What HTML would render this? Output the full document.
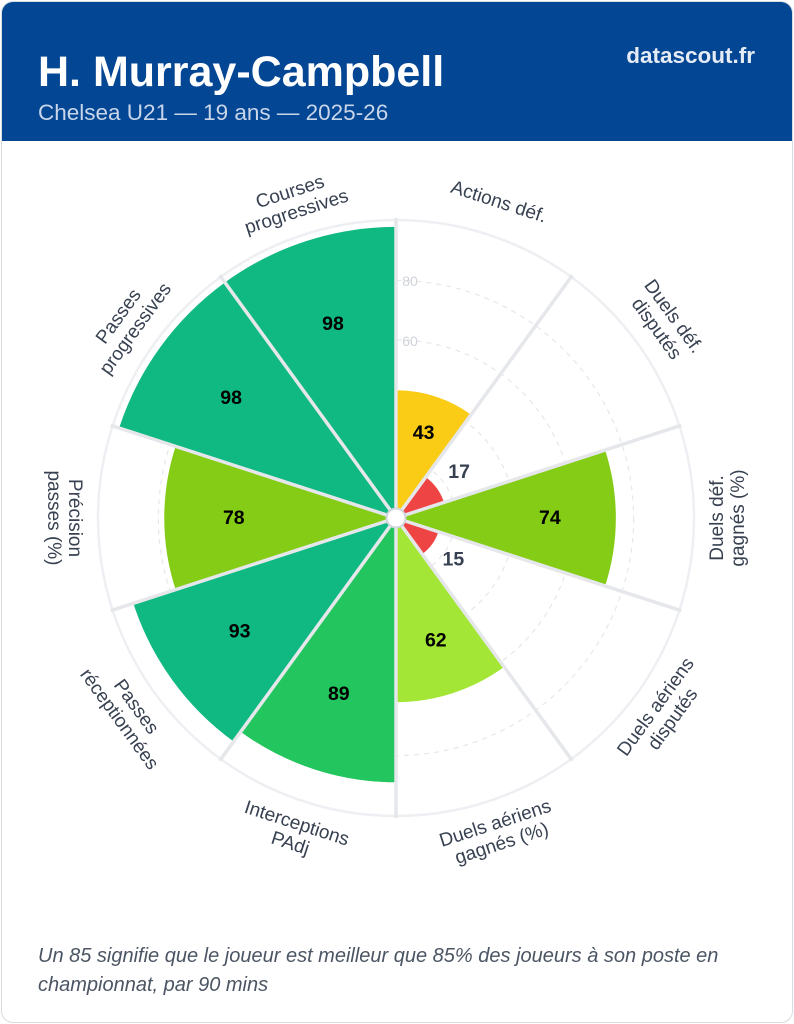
<!DOCTYPE html>
<html><head><meta charset="utf-8"><style>
html,body{margin:0;padding:0;background:#fff;}
body{width:794px;height:1024px;position:relative;overflow:hidden;font-family:"Liberation Sans",sans-serif;}
.card{position:absolute;left:1px;top:1px;width:790px;height:1020px;border:1px solid #d9dce1;border-radius:12px;overflow:hidden;background:#fff;}
.hdr{position:absolute;left:0;top:0;width:790px;height:139px;background:#034694;}
.t{position:absolute;left:36px;top:46px;font-size:43px;font-weight:bold;color:#fff;}
.s{position:absolute;left:36px;top:98px;font-size:22.5px;color:#c9d6ea;}
.b{position:absolute;right:37px;top:41px;font-size:22.5px;font-weight:bold;color:#e6ecf5;}
.f{position:absolute;left:36px;top:940px;font-size:20px;font-style:italic;color:#4b5563;line-height:29px;width:720px;}
svg{position:absolute;left:0;top:0;}
</style></head><body>
<div class="card">
<div class="hdr"></div>
<div class="t">H. Murray-Campbell</div>
<div class="s">Chelsea U21 — 19 ans — 2025-26</div>
<div class="b">datascout.fr</div>
<div class="f">Un 85 signifie que le joueur est meilleur que 85% des joueurs à son poste en championnat, par 90 mins</div>
</div>
<svg width="794" height="1024" viewBox="0 0 794 1024">
<g fill="none" stroke="#e5e7eb" stroke-width="1.2" stroke-dasharray="5 5">
<circle cx="396" cy="518" r="59.4"/><circle cx="396" cy="518" r="118.8"/><circle cx="396" cy="518" r="178.2"/><circle cx="396" cy="518" r="237.6"/>
</g>
<circle cx="396" cy="518" r="298" fill="none" stroke="#eeeff2" stroke-width="2.5"/>
<text x="410" y="286" font-size="14" fill="#cfd3da" text-anchor="middle">80</text>
<text x="410" y="346" font-size="14" fill="#cfd3da" text-anchor="middle">60</text>
<g>
<path d="M396 518 L396 390.3 A127.7 127.7 0 0 1 471.1 414.7 Z" fill="#facc15"/>
<path d="M396 518 L425.7 477.1 A50.5 50.5 0 0 1 444.0 502.4 Z" fill="#ef4444"/>
<path d="M396 518 L605.1 450.1 A219.8 219.8 0 0 1 605.1 585.9 Z" fill="#84cc16"/>
<path d="M396 518 L438.4 531.8 A44.6 44.6 0 0 1 422.2 554.1 Z" fill="#ef4444"/>
<path d="M396 518 L504.2 666.9 A184.1 184.1 0 0 1 396 702.1 Z" fill="#a3e635"/>
<path d="M396 518 L396 782.3 A264.3 264.3 0 0 1 240.6 731.8 Z" fill="#22c55e"/>
<path d="M396 518 L233.6 741.5 A276.2 276.2 0 0 1 133.3 603.3 Z" fill="#10b981"/>
<path d="M396 518 L175.6 589.6 A231.7 231.7 0 0 1 175.6 446.4 Z" fill="#84cc16"/>
<path d="M396 518 L119.1 428.0 A291.1 291.1 0 0 1 224.9 282.5 Z" fill="#10b981"/>
<path d="M396 518 L224.9 282.5 A291.1 291.1 0 0 1 396 226.9 Z" fill="#10b981"/>
</g>
<g stroke="#e5e7eb" stroke-width="3.5">
<line x1="396" y1="518" x2="396" y2="218"/>
<line x1="396" y1="518" x2="572.3" y2="275.3"/>
<line x1="396" y1="518" x2="681.3" y2="425.3"/>
<line x1="396" y1="518" x2="681.3" y2="610.7"/>
<line x1="396" y1="518" x2="572.3" y2="760.7"/>
<line x1="396" y1="518" x2="396" y2="818"/>
<line x1="396" y1="518" x2="219.7" y2="760.7"/>
<line x1="396" y1="518" x2="110.7" y2="610.7"/>
<line x1="396" y1="518" x2="110.7" y2="425.3"/>
<line x1="396" y1="518" x2="219.7" y2="275.3"/>
</g>
<circle cx="396" cy="518" r="9.5" fill="#fff" stroke="#d1d5db" stroke-width="2"/>
<g font-size="19.5" font-weight="bold" text-anchor="middle" dominant-baseline="central" fill="#000">
<text x="423.6" y="433">43</text>
<text x="459.1" y="472.2" fill="#374151">17</text>
<text x="549.9" y="518">74</text>
<text x="453.4" y="559.7" fill="#374151">15</text>
<text x="435.8" y="640.6">62</text>
<text x="338.8" y="694">89</text>
<text x="239.6" y="631.6">93</text>
<text x="233.8" y="518">78</text>
<text x="231.1" y="398.2">98</text>
<text x="333" y="324.2">98</text>
</g>
<g font-size="19" fill="#374151" text-anchor="middle" dominant-baseline="central">
<text transform="translate(498.6 202.2) rotate(18)" x="0" y="0">Actions déf.</text>
<g transform="translate(664.6 322.8) rotate(54)"><text y="-10.5">Duels déf.</text><text y="10.5">disputés</text></g>
<g transform="translate(728 518) rotate(-90)"><text y="-10.5">Duels déf.</text><text y="10.5">gagnés (%)</text></g>
<g transform="translate(664.6 713.2) rotate(-54)"><text y="-10.5">Duels aériens</text><text y="10.5">disputés</text></g>
<g transform="translate(498.6 833.8) rotate(-18)"><text y="-10.5">Duels aériens</text><text y="10.5">gagnés (%)</text></g>
<g transform="translate(293.4 833.8) rotate(18)"><text y="-10.5">Interceptions</text><text y="10.5">PAdj</text></g>
<g transform="translate(127.4 713.2) rotate(54)"><text y="-10.5">Passes</text><text y="10.5">réceptionnées</text></g>
<g transform="translate(64 518) rotate(90)"><text y="-10.5">Précision</text><text y="10.5">passes (%)</text></g>
<g transform="translate(127.4 322.8) rotate(-54)"><text y="-10.5">Passes</text><text y="10.5">progressives</text></g>
<g transform="translate(293.4 202.2) rotate(-18)"><text y="-10.5">Courses</text><text y="10.5">progressives</text></g>
</g>
</svg>
</body></html>
